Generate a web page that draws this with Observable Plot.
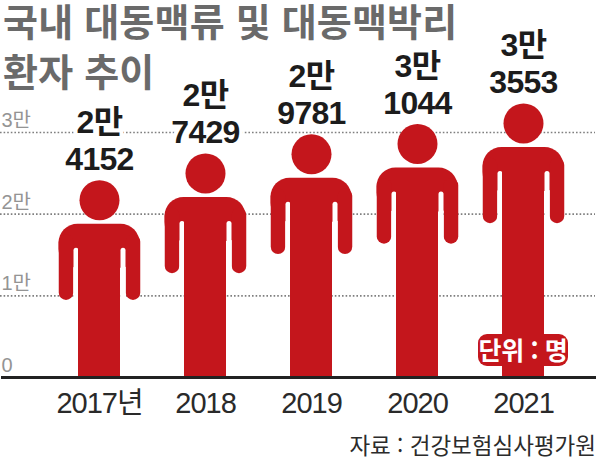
<!DOCTYPE html>
<html lang="ko"><head><meta charset="utf-8">
<script src="https://cdn.jsdelivr.net/npm/d3@7"></script>
<script src="https://cdn.jsdelivr.net/npm/@observablehq/plot@0.6"></script>
<style>
html,body{margin:0;padding:0;background:#fff}
#wrap{position:relative;width:600px;height:459px;overflow:hidden;font-family:"Noto Sans CJK KR",sans-serif}
#wrap svg{position:absolute;left:0;top:0;background:transparent}
h1{position:absolute;left:3px;top:0;margin:0;font-size:38px;line-height:40px;font-weight:700;color:#6a6a6a;letter-spacing:.2px;z-index:2;font-family:inherit}
h1 span{display:block}
h1 span+span{margin-top:10px}
#unit{position:absolute;left:478px;top:334px;width:90px;height:32px;line-height:31px;text-align:center;background:#c4161c;border-radius:9px;color:#fff;font-weight:700;font-size:25px;letter-spacing:-.4px;white-space:nowrap;z-index:2}
#src{position:absolute;right:4px;top:428px;font-size:22.5px;line-height:32px;color:#2b2b2b;white-space:nowrap;z-index:2}
.digits text{font-family:"Liberation Sans","Noto Sans CJK KR",sans-serif}
.vals{letter-spacing:-.7px}
.xt{letter-spacing:-1px}
</style></head><body>
<div id="wrap">
<h1><span>국내 대동맥류 및 대동맥박리</span><span>환자 추이</span></h1>
<div id="unit">단위 : 명</div>
<div id="src">자료 : 건강보험심사평가원</div>
</div>
<script>
const years = ["2017","2018","2019","2020","2021"];
const patients = [24152, 27429, 29781, 31044, 33553];
const yTicks = [0, 10000, 20000, 30000];
const yTickLabels = ["0","1만","2만","3만"];
const xLabels = ["2017년","2018","2019","2020","2021"];
const valueLabels = ["2만\n4152","2만\n7429","2만\n9781","3만\n1044","3만\n3553"];

const data = years.map((year,i)=>({year,value:patients[i],label:valueLabels[i]}));
const red = "#c4161c";
const PX = 10000/81.67;           // one picture pixel in y-scale units
const below = px => d => d.value - px*PX;

const chart = Plot.plot({
  width:600, height:459,
  marginLeft:0, marginRight:0, marginTop:0, marginBottom:82,
  className:"digits",
  style:{background:"transparent",overflow:"visible"},
  x:{type:"band",domain:years,range:[45.7,575.7],padding:0,label:null},
  y:{domain:[0,46160],label:null},
  marks:[
    Plot.ruleY(yTicks.slice(1),{stroke:"#7f7f7f",strokeWidth:1.6,strokeDasharray:"1.6 2",insetRight:5}),
    Plot.axisY({ticks:yTicks,anchor:"left",tickSize:0,tickPadding:0,textAnchor:"start",dx:1,dy:-12,fontSize:20,
      fill:"#949494",label:null,tickFormat:d=>yTickLabels[yTicks.indexOf(d)]}),
    // shoulders
    Plot.barY(data,{x:"year",y1:below(44),y2:below(88),insetLeft:12.5,insetRight:12.5,rx:19,ry:19,fill:red}),
    // arms
    Plot.ruleX(data,{x:"year",y1:below(62),y2:below(113),dx:-33.5,stroke:red,strokeWidth:14.5,strokeLinecap:"round"}),
    Plot.ruleX(data,{x:"year",y1:below(62),y2:below(113),dx:33.5,stroke:red,strokeWidth:14.5,strokeLinecap:"round"}),
    // slits between arms and torso
    Plot.ruleX(data,{x:"year",y1:below(70.5),y2:below(126),dx:-23.5,stroke:"#fff",strokeWidth:5,strokeLinecap:"round"}),
    Plot.ruleX(data,{x:"year",y1:below(70.5),y2:below(126),dx:23.5,stroke:"#fff",strokeWidth:5,strokeLinecap:"round"}),
    // torso and legs
    Plot.barY(data,{x:"year",y1:0,y2:below(46),insetLeft:32,insetRight:32,fill:red}),
    // head
    Plot.dot(data,{x:"year",y:"value",dy:20,r:20,fill:red}),
    Plot.ruleY([0],{stroke:"#222",strokeWidth:3,insetLeft:1,insetRight:4}),
    Plot.axisX({anchor:"bottom",tickSize:0,tickPadding:15,fontSize:29,fill:"#2a2a2a",label:null,className:"xt",
      tickFormat:d=>xLabels[years.indexOf(d)]}),
    Plot.text(data,{x:"year",y:"value",text:"label",dy:-10,lineAnchor:"bottom",lineHeight:1.17,fontSize:32,fontWeight:700,className:"vals",
      fill:"#1c1c1c",stroke:"#fff",strokeWidth:8})
  ]
});
document.getElementById("wrap").appendChild(chart);
</script>
</body></html>
